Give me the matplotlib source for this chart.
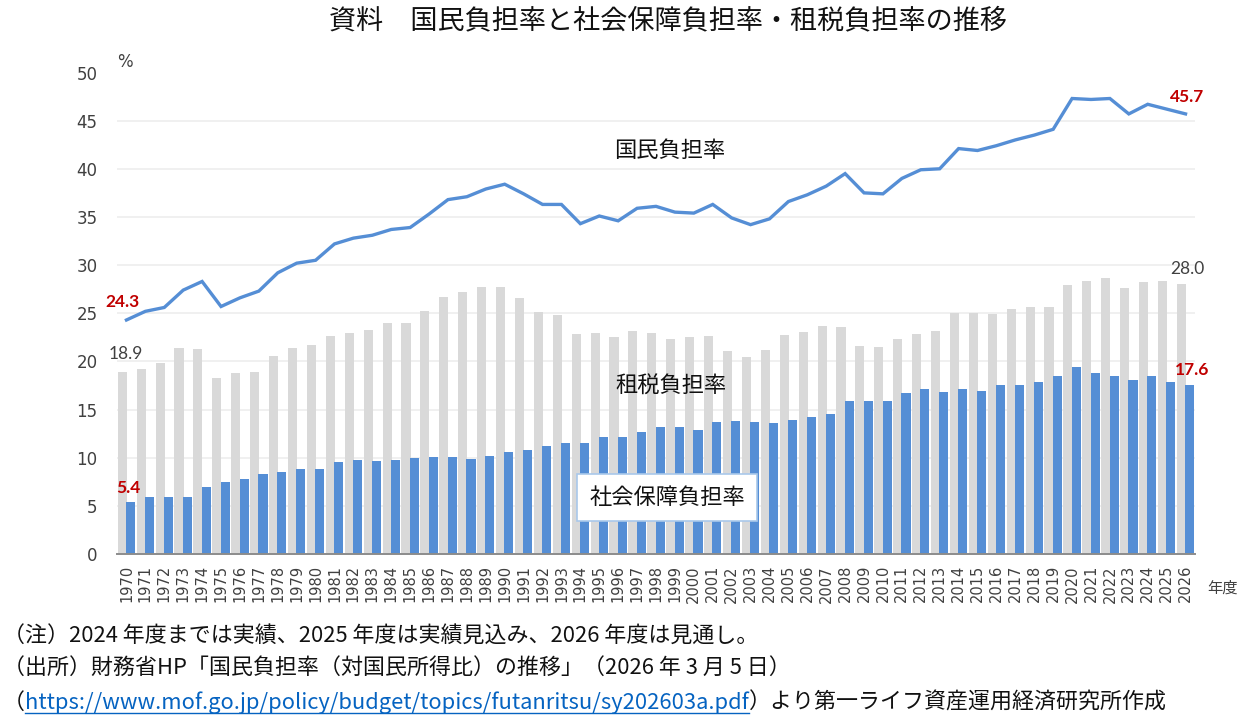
import matplotlib
matplotlib.use("Agg")
import matplotlib.pyplot as plt
import numpy as np

plt.rcParams['font.family'] = ['Noto Sans CJK JP', 'DejaVu Sans']

years = list(range(1970, 2027))
tax = [18.9, 19.2, 19.8, 21.4, 21.3, 18.3, 18.8, 18.9, 20.6, 21.4,
       21.7, 22.6, 23.0, 23.3, 24.0, 24.0, 25.2, 26.7, 27.2, 27.7,
       27.7, 26.6, 25.1, 24.8, 22.8, 22.9, 22.5, 23.2, 22.9, 22.3,
       22.5, 22.6, 21.1, 20.5, 21.2, 22.7, 23.1, 23.7, 23.6, 21.6,
       21.5, 22.3, 22.8, 23.2, 25.0, 25.0, 24.9, 25.4, 25.7, 25.7,
       27.9, 28.4, 28.7, 27.6, 28.2, 28.3, 28.0]
social = [5.4, 5.9, 5.9, 5.9, 7.0, 7.5, 7.8, 8.3, 8.5, 8.8,
          8.8, 9.6, 9.8, 9.7, 9.8, 10.0, 10.1, 10.1, 9.9, 10.2,
          10.6, 10.8, 11.2, 11.5, 11.5, 12.2, 12.1, 12.7, 13.2, 13.2,
          12.9, 13.7, 13.8, 13.7, 13.6, 13.9, 14.2, 14.5, 15.9, 15.9,
          15.9, 16.7, 17.1, 16.8, 17.1, 16.9, 17.5, 17.6, 17.9, 18.5,
          19.4, 18.8, 18.5, 18.1, 18.5, 17.9, 17.6]
total = [24.3, 25.2, 25.6, 27.4, 28.3, 25.7, 26.6, 27.3, 29.2, 30.2,
         30.5, 32.2, 32.8, 33.1, 33.7, 33.9, 35.3, 36.8, 37.1, 37.9,
         38.4, 37.4, 36.3, 36.3, 34.3, 35.1, 34.6, 35.9, 36.1, 35.5,
         35.4, 36.3, 34.9, 34.2, 34.8, 36.6, 37.3, 38.2, 39.5, 37.5,
         37.4, 39.0, 39.9, 40.0, 42.1, 41.9, 42.4, 43.0, 43.5, 44.1,
         47.3, 47.2, 47.3, 45.7, 46.7, 46.2, 45.7]
year_labels = [str(y) for y in years]
y_ticks = [0, 5, 10, 15, 20, 25, 30, 35, 40, 45, 50]

title = "資料　国民負担率と社会保障負担率・租税負担率の推移"
note1 = "（注）2024 年度までは実績、2025 年度は実績見込み、2026 年度は見通し。"
note2 = "（出所）財務省HP「国民負担率（対国民所得比）の推移」（2026 年 3 月 5 日）"
url = "https://www.mof.go.jp/policy/budget/topics/futanritsu/sy202603a.pdf"
note3_tail = "）より第一ライフ資産運用経済研究所作成"

GRAY = "#D9D9D9"
BLUE = "#558ED5"
RED = "#C00000"
TXT = "#404040"

W, H = 1241, 724
fig = plt.figure(figsize=(W / 100, H / 100), dpi=100)
ax = fig.add_axes([117 / W, 1 - 554 / H, (1195 - 117) / W, (554 - 72.5) / H])

x = np.arange(len(years))
bw = 0.48
off = 0.22
ax.bar(x - off, tax, width=bw, color=GRAY, zorder=2)
ax.bar(x + off, social, width=bw, color=BLUE, zorder=3)
ax.plot(x, total, color=BLUE, lw=2.4, zorder=4, solid_joinstyle='miter')

ax.set_xlim(-0.5, len(years) - 0.5)
ax.set_ylim(0, 50)
ax.set_yticks(y_ticks)
ax.set_yticklabels([str(v) for v in y_ticks], fontsize=12, color=TXT, family='DejaVu Sans')
ax.set_xticks(x)
ax.set_xticklabels(year_labels, rotation=90, fontsize=10.5, color=TXT, family='DejaVu Sans')
ax.tick_params(axis='both', length=0)
ax.tick_params(axis='y', pad=14)
ax.tick_params(axis='x', pad=8)
ax.grid(axis='y', color='#EDEDED', lw=1.2, zorder=0)
for s in ['top', 'right', 'left']:
    ax.spines[s].set_visible(False)
ax.spines['bottom'].set_color('#8C8C8C')
ax.spines['bottom'].set_linewidth(1.4)
ax.spines['bottom'].set_zorder(5)

# value labels
lab_font = dict(family=['Lato', 'DejaVu Sans'], fontsize=12.5, ha='center', va='center')
ax.annotate(f"{total[0]:.1f}", (x[0], total[0]), xytext=(-3.5, 18), textcoords='offset pixels',
            color=RED, fontweight='bold', **lab_font)
ax.annotate(f"{social[0]:.1f}", (x[0] + off, social[0]), xytext=(-2.5, 14), textcoords='offset pixels',
            color=RED, fontweight='bold', **lab_font)
ax.annotate(f"{tax[0]:.1f}", (x[0] - off, tax[0]), xytext=(3.5, 18), textcoords='offset pixels',
            color=TXT, **lab_font)
ax.annotate(f"{tax[-1]:.1f}", (x[-1] - off, tax[-1]), xytext=(6, 15), textcoords='offset pixels',
            color=TXT, **lab_font)
ax.annotate(f"{total[-1]:.1f}", (x[-1], total[-1]), xytext=(2, 17), textcoords='offset pixels',
            color=RED, fontweight='bold', **lab_font)
ax.annotate(f"{social[-1]:.1f}", (x[-1] + off, social[-1]), xytext=(2, 15), textcoords='offset pixels',
            color=RED, fontweight='bold', **lab_font)

# series names
ax.text(28.7, 41.95, "国民負担率", fontsize=16, ha='center', va='center', color='#111111', zorder=6)
ax.text(28.8, 17.45, "租税負担率", fontsize=16, ha='center', va='center', color='#111111', zorder=6)
ax.text(28.6, 5.85, "社会保障負担率", fontsize=16, ha='center', va='center', color='#111111', zorder=6,
        bbox=dict(boxstyle='square,pad=0.55', facecolor='white', edgecolor='#A9C8EA', lw=1.2))

fig.text(125 / W, 1 - 62 / H, "%", fontsize=12, color=TXT, family='DejaVu Sans',
         ha='center', va='center')
fig.text(1222 / W, 1 - 588 / H, "年度", fontsize=11, color=TXT, ha='center', va='center')

# title
fig.text(668 / W, 1 - 21 / H, title, fontsize=19.5, ha='center', va='center', color='#111111')

# footnotes
fs_note = 15.8
fig.text(3 / W, 1 - 637 / H, note1, fontsize=fs_note, ha='left', va='center', color='#111111')
fig.text(3 / W, 1 - 668 / H, note2, fontsize=fs_note, ha='left', va='center', color='#111111')

renderer = fig.canvas.get_renderer()
y3 = 1 - 703 / H
t1 = fig.text(3 / W, y3, "（", fontsize=fs_note, ha='left', va='center', color='#111111')
bb1 = t1.get_window_extent(renderer)
t2 = fig.text(bb1.x1 / W, y3, url, fontsize=fs_note, ha='left', va='center', color='#0563C1')
bb2 = t2.get_window_extent(renderer)
t3 = fig.text(bb2.x1 / W, y3, note3_tail, fontsize=fs_note, ha='left', va='center', color='#111111')
fig.add_artist(plt.Line2D([bb2.x0 / W, bb2.x1 / W], [(bb2.y0 + 1) / H, (bb2.y0 + 1) / H],
                          color='#0563C1', lw=1.0))

fig.savefig("out.png", dpi=100, facecolor='white')
